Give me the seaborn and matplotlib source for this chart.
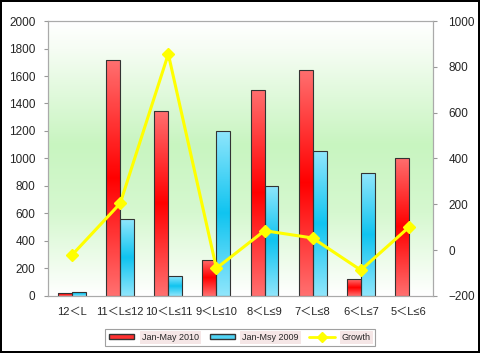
import numpy as np
import pandas as pd
import matplotlib
matplotlib.use("Agg")
import matplotlib.pyplot as plt
import seaborn as sns
from matplotlib.colors import LinearSegmentedColormap
from matplotlib.lines import Line2D
from matplotlib.patches import Patch

categories = ["12＜L", "11＜L≤12", "10＜L≤11", "9＜L≤10", "8＜L≤9", "7＜L≤8", "6＜L≤7", "5＜L≤6"]
sales_2010 = [24, 1716, 1348, 262, 1501, 1644, 121, 1006]
sales_2009 = [31, 558, 143, 1202, 802, 1052, 892, 0]
growth = [-21, 204, 856, -79, 85, 53, -87, 100]
series_names = ["Jan-May 2010", "Jan-Msy 2009"]
growth_name = "Growth"

sns.set_style("white")
plt.rcParams['font.family'] = ['Liberation Sans', 'Noto Sans CJK SC', 'DejaVu Sans']

df = pd.DataFrame({
    "cat": categories * 2,
    "val": sales_2010 + sales_2009,
    "series": [series_names[0]] * len(categories) + [series_names[1]] * len(categories),
})

fig = plt.figure(figsize=(4.8, 3.53), dpi=100)
fig.patch.set_edgecolor("black")
fig.patch.set_linewidth(1.5)
ax = fig.add_axes([0.1, 0.1615, 0.802, 0.779])

sns.barplot(data=df, x="cat", y="val", hue="series", ax=ax,
            palette=["#FF0000", "#22C8F2"], width=0.58, edgecolor="#333333",
            linewidth=0.8, legend=False)

ax.set_ylim(0, 2000)
ax.set_xlim(-0.5, len(categories) - 0.5)

# background gradient: white -> light green -> white
bg = LinearSegmentedColormap.from_list("bg", [(0, "#FFFFFF"), (0.1, "#F6FDF4"), (0.45, "#C8F5C0"),
                                              (0.7, "#D6F8D0"), (1, "#FFFFFF")])
grad = np.linspace(0, 1, 256).reshape(-1, 1)
ax.imshow(grad, extent=[-0.5, len(categories) - 0.5, 0, 2000], aspect="auto",
          cmap=bg, zorder=0, origin="upper")

# bar gradients
red_cm = LinearSegmentedColormap.from_list("r", ["#FF7070", "#FF0000", "#FF7070"])
blue_cm = LinearSegmentedColormap.from_list("b", ["#90E6FC", "#10C4F0", "#90E6FC"])
n = len(categories)
for i, p in enumerate(ax.patches):
    h = p.get_height()
    if h <= 0:
        p.set_visible(False)
        continue
    cm = red_cm if i < n else blue_cm
    x0 = p.get_x(); w = p.get_width()
    im = ax.imshow(grad, extent=[x0, x0 + w, 0, h], aspect="auto", cmap=cm,
                   zorder=p.get_zorder() + 0.1, origin="upper")
    im.set_clip_path(p)
    p.set_facecolor("none")
    p.set_zorder(p.get_zorder() + 0.2)

ax.set_xlim(-0.5, n - 0.5)
ax.set_ylim(0, 2000)
ax.set_yticks(np.arange(0, 2001, 200))
ax.set_xlabel("")
ax.set_ylabel("")
ax.tick_params(axis="y", labelsize=8.5, length=3, color="#999999", pad=6)
ax.tick_params(axis="x", which="major", labelsize=8, length=0, pad=8)
ax.set_xticks(np.arange(-0.5, n, 1), minor=True)
ax.tick_params(axis="x", which="minor", length=3, color="#999999")
for s in ax.spines.values():
    s.set_color("#AAAAAA")
    s.set_linewidth(0.8)

ax2 = ax.twinx()
ax2.plot(range(n), growth, color="#FFFF00", marker="D", markersize=6, linewidth=2.2,
         zorder=5)
ax2.set_ylim(-200, 1000)
ax2.set_yticks(np.arange(-200, 1001, 200))
ax2.tick_params(axis="y", labelsize=8.5, length=3, color="#999999", pad=8)
for s in ax2.spines.values():
    s.set_color("#AAAAAA")
    s.set_linewidth(0.8)

handles = [Patch(facecolor="#FF3030", edgecolor="#333333", label=series_names[0]),
           Patch(facecolor="#50D4F5", edgecolor="#333333", label=series_names[1]),
           Line2D([0], [0], color="#FFFF00", marker="D", markersize=5, linewidth=2,
                  label=growth_name)]
leg = fig.legend(handles=handles, loc="center", bbox_to_anchor=(0.5, 0.045), ncol=3,
                 fontsize=6.5, frameon=True, fancybox=False, edgecolor="#888888",
                 handlelength=2.8, handleheight=0.6, columnspacing=1.2,
                 handletextpad=0.8, borderpad=0.45)
leg.get_frame().set_linewidth(0.8)
for t in leg.get_texts():
    t.set_bbox(dict(facecolor="#F5E6E6", edgecolor="none", pad=1.5))

fig.savefig("out.png", dpi=100)
